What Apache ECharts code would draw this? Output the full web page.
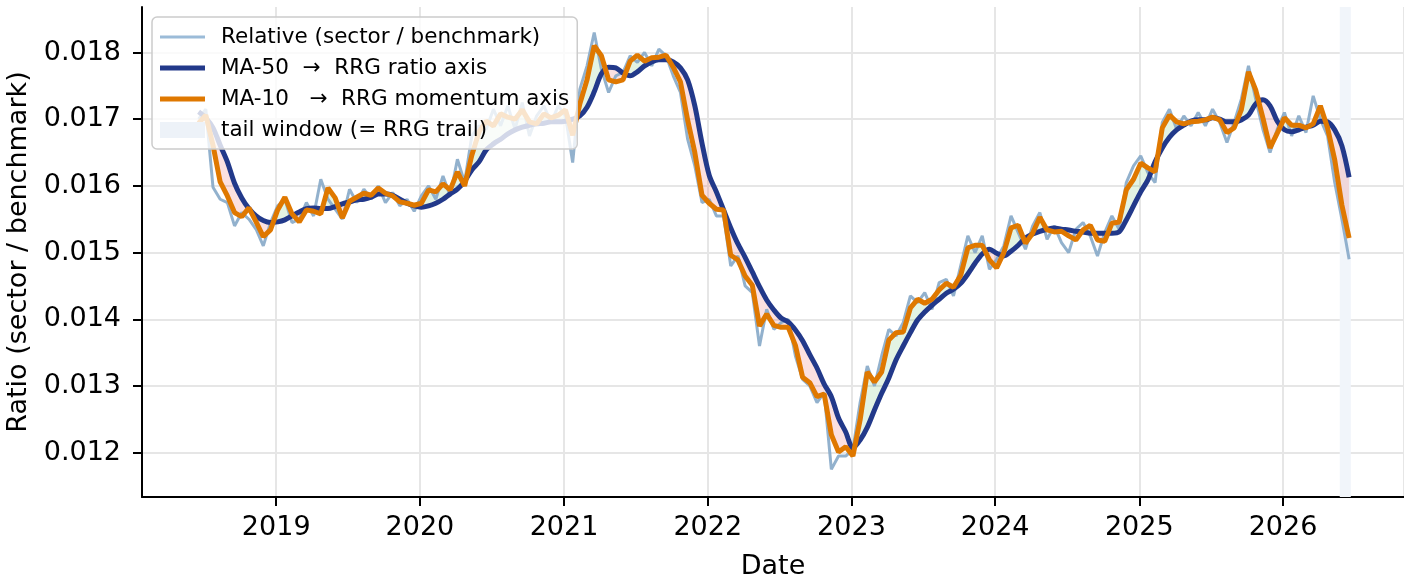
<!DOCTYPE html>
<html>
<head>
<meta charset="utf-8">
<script src="https://cdn.jsdelivr.net/npm/echarts@6/dist/echarts.min.js"></script>
<style>
  html, body { margin: 0; padding: 0; background: #fff; }
  #chart { width: 1404px; height: 576px; }
</style>
</head>
<body>
<div id="chart"></div>
<script>
// NOTE - sample dates: every 0.05 year, starting mid-June 2018
const firstDate = 2018.46
const step = 0.05

// NOTE - relative strength ratio (sector / benchmark)
const relative = [
  0.01700, 0.01715, 0.01598, 0.01580, 0.01575, 0.01540, 0.01560, 0.01550, 0.01535, 0.01510,
  0.01545, 0.01570, 0.01580, 0.01545, 0.01550, 0.01575, 0.01555, 0.01610, 0.01580, 0.01565,
  0.01550, 0.01595, 0.01575, 0.01595, 0.01580, 0.01600, 0.01575, 0.01590, 0.01570, 0.01580,
  0.01562, 0.01585, 0.01600, 0.01580, 0.01615, 0.01585, 0.01640, 0.01605, 0.01675, 0.01690,
  0.01685, 0.01715, 0.01690, 0.01720, 0.01685, 0.01725, 0.01675, 0.01705, 0.01720, 0.01695,
  0.01720, 0.01705, 0.01635, 0.01745, 0.01780, 0.01830, 0.01775, 0.01740, 0.01765, 0.01770,
  0.01795, 0.01785, 0.01800, 0.01780, 0.01805, 0.01795, 0.01765, 0.01740, 0.01670, 0.01630,
  0.01575, 0.01580, 0.01555, 0.01555, 0.01480, 0.01495, 0.01450, 0.01440, 0.01360, 0.01415,
  0.01385, 0.01395, 0.01400, 0.01345, 0.01310, 0.01300, 0.01275, 0.01290, 0.01175, 0.01195,
  0.01195, 0.01205, 0.01275, 0.01330, 0.01300, 0.01345, 0.01385, 0.01375, 0.01395, 0.01435,
  0.01425, 0.01440, 0.01415, 0.01455, 0.01460, 0.01435, 0.01480, 0.01525, 0.01500, 0.01525,
  0.01475, 0.01490, 0.01510, 0.01555, 0.01530, 0.01505, 0.01540, 0.01560, 0.01520, 0.01540,
  0.01515, 0.01500, 0.01535, 0.01545, 0.01525, 0.01495, 0.01530, 0.01555, 0.01535, 0.01605,
  0.01630, 0.01645, 0.01620, 0.01605, 0.01695, 0.01715, 0.01685, 0.01705, 0.01690, 0.01710,
  0.01690, 0.01715, 0.01695, 0.01665, 0.01695, 0.01730, 0.01780, 0.01730, 0.01685, 0.01650,
  0.01685, 0.01710, 0.01675, 0.01705, 0.01680, 0.01735, 0.01700, 0.01675, 0.01605, 0.01550,
  0.01490,
]

// NOTE - 50-day moving average (RRG ratio axis)
const ma50 = [
  0.01711, 0.01702, 0.01687, 0.01661, 0.01636, 0.01604, 0.01582, 0.01566, 0.01555, 0.01548,
  0.01545, 0.01546, 0.01549, 0.01555, 0.01561, 0.01566, 0.01567, 0.01566, 0.01566, 0.01569,
  0.01573, 0.01576, 0.01579, 0.01580, 0.01583, 0.01588, 0.01588, 0.01586, 0.01580, 0.01574,
  0.01570, 0.01568, 0.01570, 0.01574, 0.01580, 0.01588, 0.01595, 0.01607, 0.01624, 0.01636,
  0.01654, 0.01663, 0.01670, 0.01678, 0.01684, 0.01688, 0.01691, 0.01693, 0.01694, 0.01696,
  0.01696, 0.01697, 0.01700, 0.01705, 0.01718, 0.01741, 0.01768, 0.01778, 0.01777, 0.01769,
  0.01765, 0.01771, 0.01780, 0.01786, 0.01789, 0.01789, 0.01786, 0.01777, 0.01759, 0.01720,
  0.01664, 0.01616, 0.01591, 0.01564, 0.01537, 0.01513, 0.01493, 0.01471, 0.01449, 0.01429,
  0.01414, 0.01402, 0.01396, 0.01384, 0.01368, 0.01347, 0.01327, 0.01303, 0.01284, 0.01252,
  0.01231, 0.01207, 0.01219, 0.01238, 0.01264, 0.01289, 0.01312, 0.01339, 0.01360, 0.01380,
  0.01399, 0.01411, 0.01421, 0.01430, 0.01439, 0.01445, 0.01454, 0.01468, 0.01484, 0.01498,
  0.01505, 0.01499, 0.01495, 0.01502, 0.01511, 0.01522, 0.01528, 0.01532, 0.01535, 0.01537,
  0.01535, 0.01534, 0.01532, 0.01531, 0.01529, 0.01529, 0.01529, 0.01529, 0.01531, 0.01549,
  0.01570, 0.01591, 0.01609, 0.01636, 0.01657, 0.01673, 0.01684, 0.01691, 0.01697, 0.01699,
  0.01699, 0.01702, 0.01700, 0.01696, 0.01696, 0.01699, 0.01706, 0.01723, 0.01729, 0.01720,
  0.01697, 0.01684, 0.01681, 0.01684, 0.01688, 0.01691, 0.01697, 0.01696, 0.01684, 0.01660,
  0.01613,
]

// NOTE - 10-day moving average (RRG momentum axis)
const ma10 = [
  0.01694, 0.01706, 0.01661, 0.01606, 0.01585, 0.01560, 0.01554, 0.01567, 0.01546, 0.01524,
  0.01534, 0.01564, 0.01583, 0.01558, 0.01546, 0.01564, 0.01562, 0.01558, 0.01597, 0.01582,
  0.01552, 0.01577, 0.01583, 0.01589, 0.01586, 0.01597, 0.01589, 0.01585, 0.01576, 0.01574,
  0.01571, 0.01574, 0.01594, 0.01591, 0.01603, 0.01594, 0.01621, 0.01600, 0.01646, 0.01681,
  0.01697, 0.01690, 0.01708, 0.01703, 0.01700, 0.01714, 0.01696, 0.01693, 0.01708, 0.01702,
  0.01706, 0.01714, 0.01676, 0.01723, 0.01759, 0.01810, 0.01795, 0.01759, 0.01756, 0.01759,
  0.01787, 0.01796, 0.01787, 0.01792, 0.01793, 0.01796, 0.01778, 0.01756, 0.01699, 0.01650,
  0.01586, 0.01574, 0.01565, 0.01564, 0.01496, 0.01489, 0.01465, 0.01451, 0.01390, 0.01408,
  0.01391, 0.01388, 0.01388, 0.01361, 0.01313, 0.01305, 0.01284, 0.01288, 0.01227, 0.01201,
  0.01209, 0.01195, 0.01249, 0.01321, 0.01306, 0.01321, 0.01369, 0.01380, 0.01381, 0.01417,
  0.01430, 0.01424, 0.01430, 0.01444, 0.01454, 0.01448, 0.01466, 0.01507, 0.01511, 0.01511,
  0.01489, 0.01477, 0.01500, 0.01537, 0.01541, 0.01514, 0.01529, 0.01553, 0.01534, 0.01531,
  0.01532, 0.01525, 0.01519, 0.01534, 0.01541, 0.01519, 0.01517, 0.01544, 0.01546, 0.01594,
  0.01610, 0.01634, 0.01627, 0.01621, 0.01687, 0.01706, 0.01696, 0.01693, 0.01696, 0.01697,
  0.01699, 0.01703, 0.01699, 0.01680, 0.01687, 0.01714, 0.01771, 0.01744, 0.01702, 0.01657,
  0.01679, 0.01702, 0.01691, 0.01691, 0.01687, 0.01693, 0.01720, 0.01687, 0.01639, 0.01571,
  0.01522,
]

// NOTE - RRG tail window (decimal years)
const tailWindow = [2026.395, 2026.472]
const xRange = [2018.066, 2026.842]
const yRange = [0.011336, 0.018682]

const names = {
  relative: 'Relative (sector / benchmark)',
  ma50: 'MA-50  \u2192  RRG ratio axis',
  ma10: 'MA-10   \u2192  RRG momentum axis',
  tail: 'tail window (= RRG trail)',
}

// decimal year -> timestamp
const toTime = t => {
  const y = Math.floor(t)
  const a = new Date(y, 0, 1).getTime()
  const b = new Date(y + 1, 0, 1).getTime()
  return a + (t - y) * (b - a)
}

const dates = relative.map((_, i) => toTime(firstDate + i * step))
const pair = arr => arr.map((v, i) => [dates[i], v])

// NOTE - fill between MA-10 and MA-50 (stacked bands)
const bandBase = ma10.map((v, i) => Math.min(v, ma50[i]))
const bandUp = ma10.map((v, i) => Math.max(v - ma50[i], 0))
const bandDown = ma10.map((v, i) => Math.max(ma50[i] - v, 0))

const font = 'DejaVu Sans'
const gridColor = '#e6e6e6'

const myChart = echarts.init(document.querySelector('#chart'))
const option = {
  animation: false,
  grid: { left: 142, top: 7, right: 0, bottom: 79, containLabel: false, outerBoundsMode: 'none' },
  legend: {
    orient: 'vertical',
    left: 152,
    top: 17,
    padding: [8, 8, 7, 8],
    backgroundColor: 'rgba(255,255,255,0.8)',
    borderColor: '#cccccc',
    borderWidth: 1.5,
    borderRadius: 5,
    itemWidth: 45,
    itemHeight: 16,
    itemGap: 7,
    selectedMode: false,
    itemStyle: { borderWidth: 0 },
    textStyle: { fontFamily: font, fontSize: 21.5, color: '#000', lineHeight: 24, padding: [0, 0, 0, 11] },
    data: [
      { name: names.relative, icon: 'path://M0,0h45v3h-45z' },
      { name: names.ma50, icon: 'path://M0,0h45v5h-45z' },
      { name: names.ma10, icon: 'path://M0,0h45v5h-45z' },
      { name: names.tail, icon: 'path://M0,0h45v16h-45z' },
    ],
  },
  xAxis: {
    type: 'time',
    min: toTime(xRange[0]),
    max: toTime(xRange[1]),
    minInterval: 365 * 864e5,
    maxInterval: 366 * 864e5,
    axisLine: { show: true, lineStyle: { color: '#000', width: 2 } },
    axisTick: { show: true, length: 9, lineStyle: { color: '#000', width: 2 } },
    axisLabel: { formatter: '{yyyy}', fontFamily: font, fontSize: 27, color: '#000', margin: 17, hideOverlap: false },
    splitLine: { show: true, lineStyle: { color: gridColor, width: 2 } },
    name: 'Date',
    nameLocation: 'middle',
    nameGap: 56,
    nameTextStyle: { fontFamily: font, fontSize: 27, color: '#000' },
  },
  yAxis: {
    type: 'value',
    min: yRange[0],
    max: yRange[1],
    splitNumber: 7,
    axisLine: { show: true, lineStyle: { color: '#000', width: 2 } },
    axisTick: { show: true, length: 9, lineStyle: { color: '#000', width: 2 } },
    axisLabel: {
      formatter: v => v.toFixed(3),
      fontFamily: font, fontSize: 27, color: '#000', margin: 21,
      showMinLabel: false, showMaxLabel: false,
    },
    splitLine: { show: true, showMinLine: false, showMaxLine: false, lineStyle: { color: gridColor, width: 2 } },
    name: 'Ratio (sector / benchmark)',
    nameLocation: 'middle',
    nameGap: 93,
    nameRotate: 90,
    nameTextStyle: { fontFamily: font, fontSize: 27, color: '#000' },
  },
  series: [
    {
      name: names.tail,
      type: 'line',
      data: [],
      itemStyle: { color: '#edf2f8' },
      lineStyle: { color: '#edf2f8' },
      markArea: {
        silent: true,
        itemStyle: { color: '#f1f5fa', opacity: 1 },
        data: [[{ xAxis: toTime(tailWindow[0]) }, { xAxis: toTime(tailWindow[1]) }]],
      },
    },
    {
      name: 'band-base',
      type: 'line',
      stack: 'band',
      data: pair(bandBase),
      symbol: 'none',
      silent: true,
      lineStyle: { opacity: 0 },
    },
    {
      name: 'band-up',
      type: 'line',
      stack: 'band',
      data: pair(bandUp),
      symbol: 'none',
      silent: true,
      lineStyle: { opacity: 0 },
      areaStyle: { color: 'rgba(60,170,60,0.14)', opacity: 1 },
    },
    {
      name: 'band-down',
      type: 'line',
      stack: 'band',
      data: pair(bandDown),
      symbol: 'none',
      silent: true,
      lineStyle: { opacity: 0 },
      areaStyle: { color: 'rgba(230,60,60,0.16)', opacity: 1 },
    },
    {
      name: names.relative,
      type: 'line',
      data: pair(relative),
      symbol: 'none',
      itemStyle: { color: '#9bbbd8' },
      lineStyle: { color: '#86a9c8', width: 3, opacity: 0.9 },
    },
    {
      name: names.ma50,
      type: 'line',
      data: pair(ma50),
      symbol: 'none',
      smooth: 0.3,
      itemStyle: { color: '#22398a' },
      lineStyle: { color: '#22398a', width: 5 },
    },
    {
      name: names.ma10,
      type: 'line',
      data: pair(ma10),
      symbol: 'none',
      itemStyle: { color: '#df7800' },
      lineStyle: { color: '#df7800', width: 5 },
    },
  ],
}
myChart.setOption(option)
</script>
</body>
</html>
